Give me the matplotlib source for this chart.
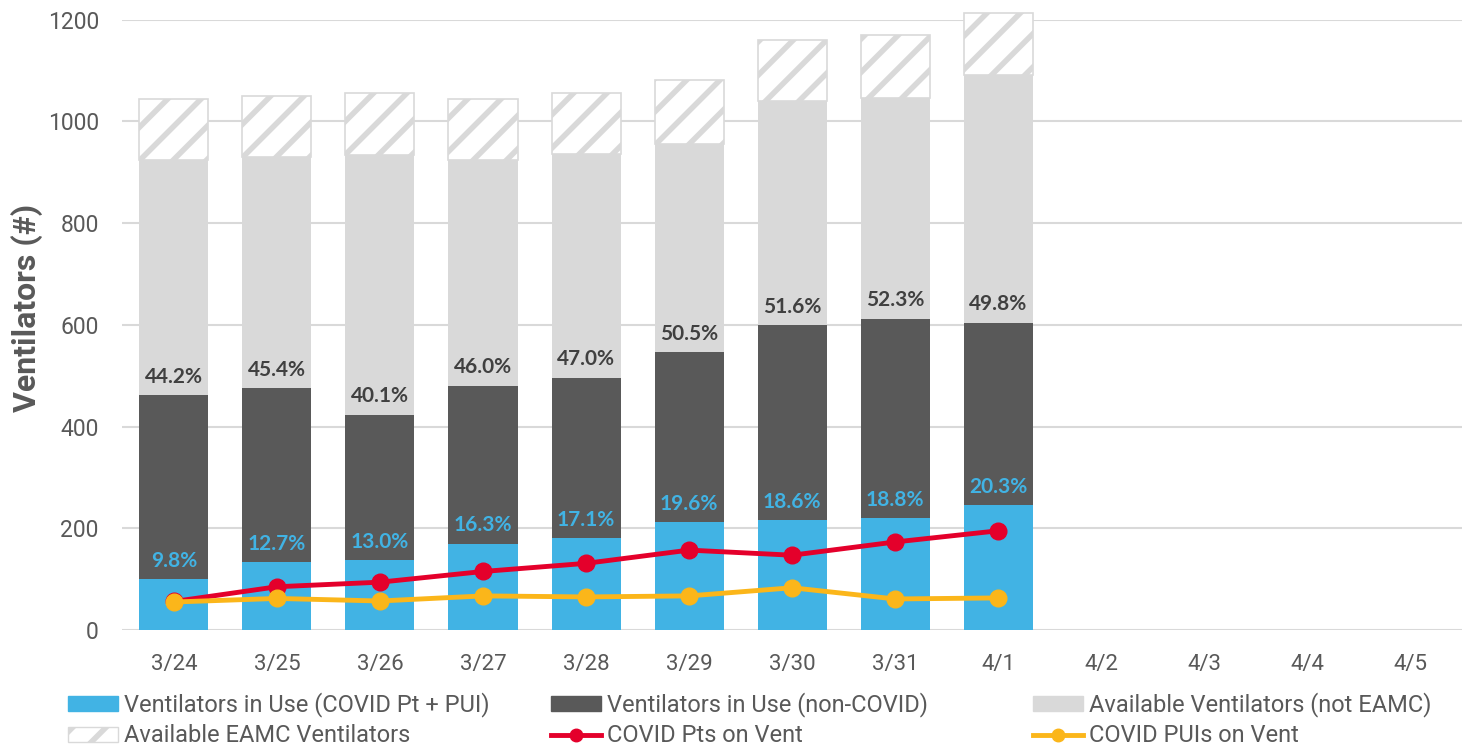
import numpy as np
import matplotlib.pyplot as plt
from matplotlib.patches import Patch
from matplotlib.lines import Line2D

# data
dates = ["3/24", "3/25", "3/26", "3/27", "3/28", "3/29", "3/30", "3/31", "4/1",
         "4/2", "4/3", "4/4", "4/5"]
covid_in_use = [100, 133, 137, 170, 180, 212, 216, 220, 246]
noncovid_in_use = [361, 343, 286, 310, 316, 334, 383, 392, 358]
avail_not_eamc = [463, 453, 511, 444, 439, 409, 440, 433, 487]
avail_eamc = [119, 120, 121, 119, 120, 127, 121, 125, 121]
covid_pts = [56, 85, 94, 115, 131, 157, 147, 173, 195]
covid_puis = [55, 62, 57, 67, 65, 67, 83, 61, 63]
covid_pct = ["9.8%", "12.7%", "13.0%", "16.3%", "17.1%", "19.6%", "18.6%", "18.8%", "20.3%"]
in_use_pct = ["44.2%", "45.4%", "40.1%", "46.0%", "47.0%", "50.5%", "51.6%", "52.3%", "49.8%"]

BLUE = "#41B3E4"
DARK = "#595959"
LIGHT = "#D9D9D9"
RED = "#E4002B"
YELLOW = "#FBB61A"
TXT = "#595959"

plt.rcParams["font.family"] = ["Roboto", "DejaVu Sans"]
plt.rcParams["hatch.linewidth"] = 4

fig = plt.figure(figsize=(14.68, 7.49), dpi=100)
ax = fig.add_axes([0.0834, 0.1589, 0.9123, 0.815])

n = len(covid_in_use)
x = np.arange(n)
w = 0.67

b1 = np.array(covid_in_use)
b2 = b1 + np.array(noncovid_in_use)
b3 = b2 + np.array(avail_not_eamc)

ax.bar(x, covid_in_use, w, color=BLUE, zorder=2)
ax.bar(x, noncovid_in_use, w, bottom=b1, color=DARK, zorder=2)
ax.bar(x, avail_not_eamc, w, bottom=b2, color=LIGHT, zorder=2)
ax.bar(x, avail_eamc, w, bottom=b3, color="white", edgecolor=LIGHT,
       hatch="/", linewidth=1.2, zorder=2, clip_on=False)

ax.plot(x, covid_pts, color=RED, lw=3.5, marker="o", ms=12, zorder=4)
ax.plot(x, covid_puis, color=YELLOW, lw=3.5, marker="o", ms=12, zorder=5)

for i in range(n):
    ax.annotate(covid_pct[i], (x[i], b1[i]), xytext=(0, 6), textcoords="offset points",
                ha="center", va="bottom", color=BLUE, fontsize=15,
                fontweight="bold", family="Lato", zorder=6)
    ax.annotate(in_use_pct[i], (x[i], b2[i]), xytext=(0, 6), textcoords="offset points",
                ha="center", va="bottom", color="#404040", fontsize=15,
                fontweight="bold", family="Lato", zorder=6)

ax.set_xlim(-0.5, len(dates) - 0.5)
ax.set_ylim(0, 1200)
ax.set_xticks(np.arange(len(dates)))
ax.set_xticklabels(dates)
ax.set_yticks(range(0, 1201, 200))
ax.tick_params(axis="x", length=0, pad=17, labelsize=16, labelcolor=TXT)
ax.tick_params(axis="y", length=0, pad=17, labelsize=16.5, labelcolor=TXT)
ax.grid(axis="y", color=LIGHT, lw=1.5, zorder=0)
ax.set_axisbelow(True)
for s in ax.spines.values():
    s.set_visible(False)
ax.set_ylabel("Ventilators (#)", fontsize=23, fontweight="bold", color=TXT)
ax.yaxis.set_label_coords(-0.059, 0.528)

# legend: three columns placed like the original
cols = [
    [Patch(color=BLUE, label="Ventilators in Use (COVID Pt + PUI)"),
     Patch(facecolor="white", edgecolor=LIGHT, hatch="/", label="Available EAMC Ventilators")],
    [Patch(color=DARK, label="Ventilators in Use (non-COVID)"),
     Line2D([], [], color=RED, lw=3.5, marker="o", ms=9, label="COVID Pts on Vent")],
    [Patch(color=LIGHT, label="Available Ventilators (not EAMC)"),
     Line2D([], [], color=YELLOW, lw=3.5, marker="o", ms=9, label="COVID PUIs on Vent")],
]
for xpos, hs in zip([0.0463, 0.3753, 0.7037], cols):
    fig.legend(handles=hs, loc="upper left", bbox_to_anchor=(xpos, 0.0755),
               frameon=False, fontsize=17, handlelength=2.1, handleheight=0.6,
               handletextpad=0.28, labelspacing=0.3, borderpad=0, borderaxespad=0,
               labelcolor=TXT)

fig.savefig("out.png", dpi=100)
